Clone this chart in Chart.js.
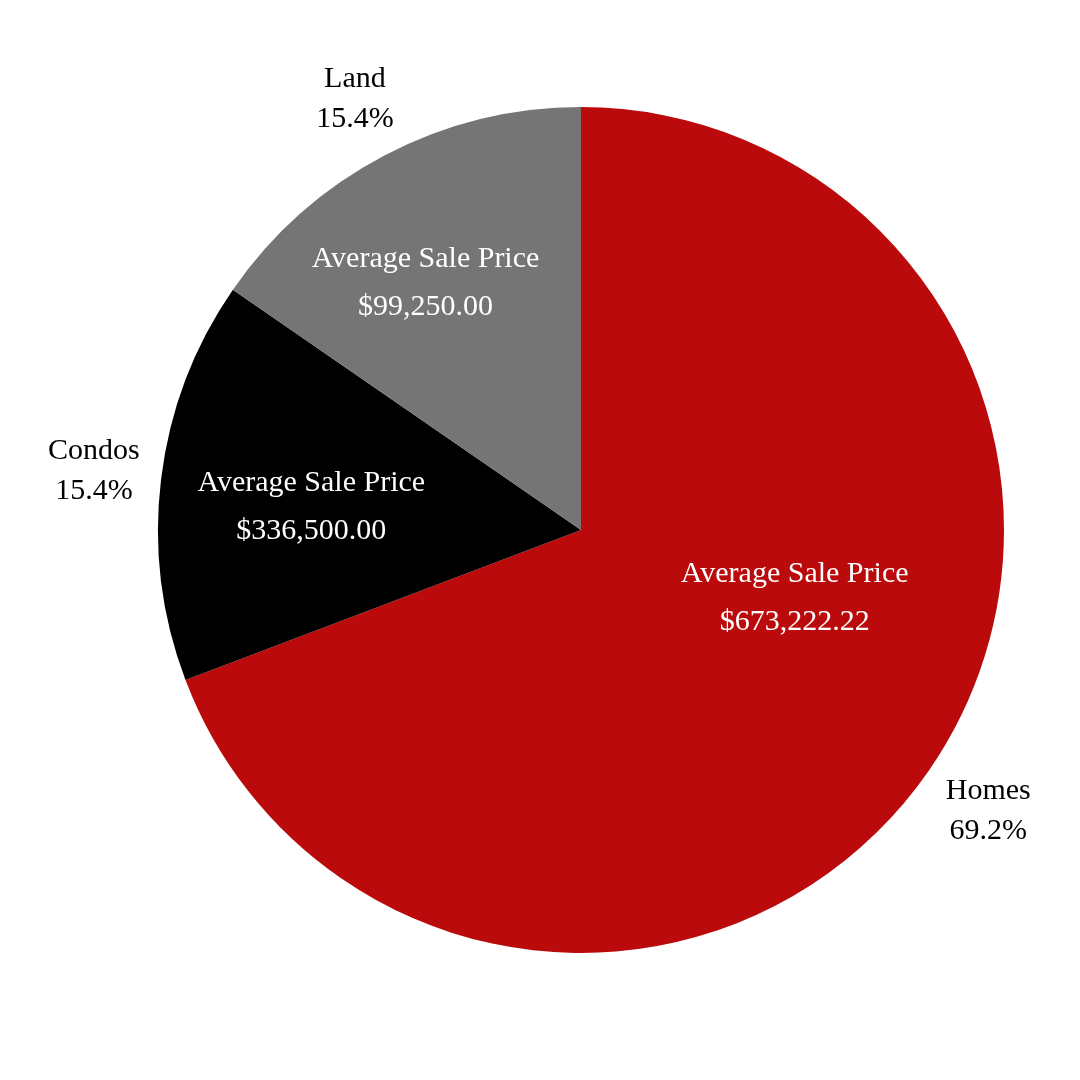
<!DOCTYPE html>
<html><head><meta charset="utf-8">
<script src="https://cdn.jsdelivr.net/npm/chart.js@4"></script>
<style>html,body{margin:0;background:#fff}#c{width:1080px;height:1080px}</style>
</head><body><div id="c"><canvas id="cv" width="1080" height="1080"></canvas></div>
<script>
const categories = ["Homes", "Condos", "Land"];
const counts = [9, 2, 2];
const percentLabels = ["69.2%", "15.4%", "15.4%"];
const avgPrices = ["$673,222.22", "$336,500.00", "$99,250.00"];
const colors = ["#bb0a0c", "#000000", "#757575"];

const FONT = "'Liberation Serif', serif";
// per-slice label placement tweaks: [inner angle offset (deg), inner radius frac, outer radius frac]
const tweak = [[-17, 0.53, 1.17], [-2, 0.64, 1.16], [-4.5, 0.69, 1.15]];

const labelPlugin = {
  id: 'labels',
  afterDatasetsDraw(chart) {
    const ctx = chart.ctx;
    const meta = chart.getDatasetMeta(0);
    ctx.save();
    ctx.textAlign = 'center';
    ctx.textBaseline = 'middle';
    ctx.font = "30px " + FONT;
    meta.data.forEach((arc, i) => {
      const {x, y, startAngle, endAngle, outerRadius} = arc.getProps(['x','y','startAngle','endAngle','outerRadius'], true);
      const mid = (startAngle + endAngle) / 2;
      const t = tweak[i];
      const ia = mid + t[0] * Math.PI / 180;
      const ix = x + Math.cos(ia) * outerRadius * t[1];
      const iy = y + Math.sin(ia) * outerRadius * t[1];
      ctx.fillStyle = '#fff';
      ctx.fillText('Average Sale Price', ix, iy - 24);
      ctx.fillText(avgPrices[i], ix, iy + 24);
      const ox = x + Math.cos(mid) * outerRadius * t[2];
      const oy = y + Math.sin(mid) * outerRadius * t[2];
      ctx.fillStyle = '#000';
      ctx.fillText(categories[i], ox, oy - 20);
      ctx.fillText(percentLabels[i], ox, oy + 20);
    });
    ctx.restore();
  }
};

new Chart(document.getElementById('cv'), {
  type: 'pie',
  data: { labels: categories, datasets: [{ data: counts, backgroundColor: colors, borderWidth: 0 }] },
  options: {
    responsive: false, animation: false,
    layout: { padding: { left: 158, right: 76, top: 107, bottom: 127 } },
    plugins: { legend: { display: false }, tooltip: { enabled: false } }
  },
  plugins: [labelPlugin]
});
</script></body></html>
